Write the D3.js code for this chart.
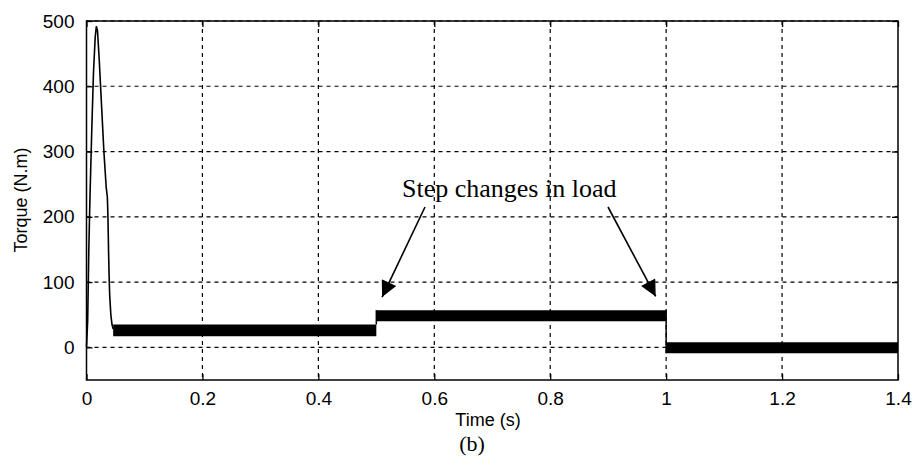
<!DOCTYPE html>
<html>
<head>
<meta charset="utf-8">
<script src="https://cdn.jsdelivr.net/npm/d3@7"></script>
<style>
  html, body { margin: 0; padding: 0; background: #fff; }
  svg { display: block; }
</style>
</head>
<body>
<svg id="chart" width="915" height="466"></svg>
<script>
// ---- data ----
const xTicks = [0, 0.2, 0.4, 0.6, 0.8, 1.0, 1.2, 1.4];
const xTickLabels = ["0", "0.2", "0.4", "0.6", "0.8", "1", "1.2", "1.4"];
const yTicks = [0, 100, 200, 300, 400, 500];
const yTickLabels = ["0", "100", "200", "300", "400", "500"];

// start-up transient (time s, torque N.m)
const transientTime   = [0, 0.002, 0.004, 0.006, 0.009, 0.012, 0.015, 0.017, 0.019, 0.022, 0.026, 0.030, 0.034, 0.036, 0.037, 0.038, 0.039, 0.040, 0.042, 0.044, 0.046];
const transientTorque = [0, 40, 150, 230, 330, 420, 475, 492, 485, 440, 370, 300, 245, 230, 200, 150, 110, 80, 50, 35, 28];

// steady-state noisy bands (envelope of the torque ripple)
const bandStart = [0.046, 0.5, 1.0];
const bandEnd   = [0.5, 1.0, 1.4];
const bandLow   = [17, 40, -9];
const bandHigh  = [35, 57, 8];

const annotationText = "Step changes in load";
const arrowTipTime   = [0.51, 0.982];
const arrowTipTorque = [77, 78];

// ---- layout ----
const svg = d3.select("#chart");
const L = 86.5, R = 898, T = 21, B = 380;
const x = d3.scaleLinear().domain([0, 1.4]).range([L, R]);
const y = d3.scaleLinear().domain([-50, 500]).range([B, T]);

// grid
const grid = svg.append("g").attr("stroke", "#000").attr("stroke-width", 1.2)
  .attr("stroke-dasharray", "4,4").attr("fill", "none");
xTicks.slice(1, -1).forEach(t => {
  grid.append("line").attr("x1", x(t)).attr("x2", x(t)).attr("y1", T).attr("y2", B);
});
yTicks.forEach(t => {
  grid.append("line").attr("x1", L).attr("x2", R).attr("y1", y(t)).attr("y2", y(t));
});

// axes (ticks inward)
const axB = svg.append("g").attr("transform", `translate(0,${B})`)
  .call(d3.axisBottom(x).tickValues(xTicks).tickSize(-6).tickPadding(12)
    .tickFormat((d, i) => xTickLabels[i]));
const axT = svg.append("g").attr("transform", `translate(0,${T})`)
  .call(d3.axisTop(x).tickValues(xTicks).tickSize(-6).tickFormat(""));
const axLf = svg.append("g").attr("transform", `translate(${L},0)`)
  .call(d3.axisLeft(y).tickValues(yTicks).tickSize(-6).tickPadding(12)
    .tickFormat((d, i) => yTickLabels[i]));
const axRt = svg.append("g").attr("transform", `translate(${R},0)`)
  .call(d3.axisRight(y).tickValues(yTicks).tickSize(-6).tickFormat(""));
[axB, axT, axLf, axRt].forEach(a => {
  a.select(".domain").remove();
  a.selectAll("line").attr("stroke", "#000").attr("stroke-width", 1.3);
  a.selectAll("text").attr("fill", "#000")
    .style("font-family", "'Liberation Sans', Arial, sans-serif").style("font-size", "19px");
});

// frame
svg.append("rect").attr("x", L).attr("y", T).attr("width", R - L).attr("height", B - T)
  .attr("fill", "none").attr("stroke", "#000").attr("stroke-width", 1.5);

// bands
const area = d3.area().x(d => x(d.t)).y0(d => y(d.lo)).y1(d => y(d.hi));
bandStart.forEach((s, i) => {
  const pts = [{t: s, lo: bandLow[i], hi: bandHigh[i]}, {t: bandEnd[i], lo: bandLow[i], hi: bandHigh[i]}];
  svg.append("path").attr("d", area(pts)).attr("fill", "#000");
});
// vertical step connectors
const stepLine = d3.line().x(d => x(d[0])).y(d => y(d[1]));
svg.append("path").attr("d", stepLine([[0.5, bandHigh[0]], [0.5, bandHigh[1]]]))
  .attr("stroke", "#000").attr("stroke-width", 1.5).attr("fill", "none");
svg.append("path").attr("d", stepLine([[1.0, bandHigh[1]], [1.0, bandLow[2]]]))
  .attr("stroke", "#000").attr("stroke-width", 1.5).attr("fill", "none");

// transient
const tLine = d3.line().x((d, i) => x(transientTime[i])).y(d => y(d));
svg.append("path").attr("d", tLine(transientTorque))
  .attr("stroke", "#000").attr("stroke-width", 1.6).attr("fill", "none");

// annotation
svg.append("text").attr("x", 402).attr("y", 197).text(annotationText)
  .style("font-family", "'Liberation Serif', 'Times New Roman', serif").style("font-size", "26px")
  .attr("fill", "#000");

const defs = svg.append("defs");
defs.append("marker").attr("id", "ah").attr("viewBox", "0 0 10 10").attr("refX", 10).attr("refY", 5)
  .attr("markerWidth", 20).attr("markerHeight", 16).attr("markerUnits", "userSpaceOnUse")
  .attr("orient", "auto")
  .append("path").attr("d", "M0,0 L10,5 L0,10 z").attr("fill", "#000");

const arrowStarts = [[425, 207], [608, 207]];
arrowTipTime.forEach((t, i) => {
  svg.append("line").attr("x1", arrowStarts[i][0]).attr("y1", arrowStarts[i][1])
    .attr("x2", x(t)).attr("y2", y(arrowTipTorque[i]))
    .attr("stroke", "#000").attr("stroke-width", 1.6).attr("marker-end", "url(#ah)");
});

// axis labels
svg.append("text").attr("x", 488).attr("y", 426).attr("text-anchor", "middle").text("Time (s)")
  .style("font-family", "'Liberation Sans', Arial, sans-serif").style("font-size", "18px");
svg.append("text").attr("transform", "translate(27,200) rotate(-90)").attr("text-anchor", "middle")
  .text("Torque (N.m)")
  .style("font-family", "'Liberation Sans', Arial, sans-serif").style("font-size", "18px");
svg.append("text").attr("x", 472).attr("y", 451).attr("text-anchor", "middle").text("(b)")
  .style("font-family", "'Liberation Serif', 'Times New Roman', serif").style("font-size", "22px");
</script>
</body>
</html>
